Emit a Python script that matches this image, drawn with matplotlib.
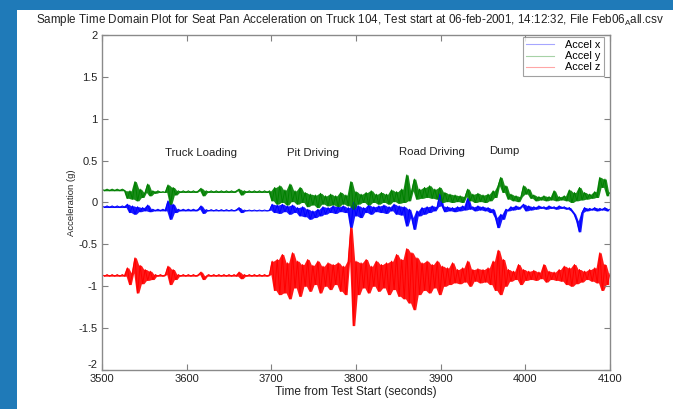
import numpy as np
import matplotlib
matplotlib.use("Agg")
import matplotlib.pyplot as plt
from matplotlib.patches import Rectangle

plt.rcParams['font.family'] = ['Liberation Sans', 'DejaVu Sans']
plt.rcParams['mathtext.fontset'] = 'custom'
plt.rcParams['mathtext.rm'] = 'Liberation Sans'

# ---------------- data ----------------
t_start, t_step = 3500, 3
accel_x = [
    -0.04, -0.06, -0.04, -0.06, -0.04, -0.06, -0.04, -0.06, -0.04, -0.06,
    -0.02, -0.12, -0.04, -0.14, -0.05, -0.11, -0.06, -0.10, -0.03, -0.11,
    -0.08, -0.10, -0.08, -0.10, -0.08, -0.10, 0.02, -0.20, -0.02, -0.12,
    -0.08, -0.10, -0.08, -0.10, -0.08, -0.10, -0.08, -0.10, -0.08, -0.04,
    -0.13, -0.085, -0.10, -0.085, -0.10, -0.085, -0.10, -0.085, -0.10, -0.085,
    -0.10, -0.085, -0.10, -0.085, -0.06, -0.12, -0.09, -0.10, -0.09, -0.10,
    -0.09, -0.10, -0.09, -0.10, -0.09, -0.10, -0.09, -0.02, -0.12, -0.03,
    -0.13, -0.02, -0.11, -0.04, -0.14, -0.03, -0.12, -0.06, -0.16, -0.05,
    -0.17, -0.08, -0.20, -0.10, -0.18, -0.08, -0.16, -0.05, -0.14, -0.06,
    -0.12, -0.04, -0.13, -0.05, -0.11, -0.04, -0.12, -0.06, -0.30, 0.00,
    -0.16, -0.04, -0.18, -0.06, -0.12, -0.03, -0.14, -0.05, -0.11, -0.04,
    -0.12, -0.03, -0.13, -0.05, -0.10, -0.02, -0.14, -0.04, -0.15, -0.05,
    -0.28, -0.08, -0.18, -0.32, -0.10, -0.16, -0.06, -0.14, -0.05, -0.12,
    -0.04, -0.10, -0.05, 0.10, -0.04, -0.11, -0.05, -0.10, -0.06, -0.11,
    -0.05, -0.10, -0.04, -0.09, 0.05, -0.08, -0.05, -0.10, -0.04, -0.09,
    -0.05, -0.10, -0.06, -0.12, -0.08, -0.18, -0.30, -0.14, -0.20, -0.08,
    -0.10, -0.05, -0.09, -0.04, -0.08, -0.05, -0.02, -0.10, -0.04, -0.09,
    -0.05, -0.08, -0.04, -0.07, -0.05, -0.08, -0.04, -0.07, -0.05, -0.08,
    -0.04, -0.07, -0.05, -0.08, -0.06, -0.10, -0.14, -0.22, -0.35, -0.12,
    -0.06, -0.10, -0.07, -0.09, -0.06, -0.10, -0.07, -0.09, -0.06, -0.10,
    -0.08,
]
accel_y = [
    0.16, 0.14, 0.16, 0.14, 0.16, 0.14, 0.16, 0.14, 0.16, 0.14,
    0.05, 0.14, 0.04, 0.25, 0.02, 0.16, 0.06, 0.12, 0.22, 0.08,
    0.14, 0.11, 0.14, 0.12, 0.13, 0.12, 0.21, -0.02, 0.18, 0.09,
    0.14, 0.12, 0.14, 0.12, 0.14, 0.12, 0.14, 0.12, 0.14, 0.17,
    0.08, 0.14, 0.12, 0.14, 0.12, 0.14, 0.12, 0.14, 0.12, 0.14,
    0.12, 0.14, 0.12, 0.14, 0.16, 0.09, 0.14, 0.12, 0.14, 0.12,
    0.14, 0.12, 0.14, 0.12, 0.14, 0.12, 0.14, 0.02, 0.18, -0.02,
    0.20, 0.00, 0.15, -0.03, 0.22, 0.01, 0.14, -0.02, 0.18, 0.00,
    0.12, -0.05, 0.10, -0.03, 0.09, -0.06, 0.11, -0.02, 0.08, -0.04,
    0.10, -0.03, 0.08, -0.05, 0.12, -0.02, 0.09, -0.04, 0.25, -0.08,
    0.13, -0.02, 0.10, 0.00, 0.12, -0.03, 0.14, 0.00, 0.10, -0.02,
    0.12, 0.00, 0.10, -0.02, 0.15, 0.01, 0.13, -0.01, 0.16, 0.00,
    0.33, 0.02, 0.14, 0.28, 0.04, 0.16, 0.05, 0.18, 0.06, 0.20,
    0.05, 0.16, 0.04, 0.18, 0.00, 0.12, 0.01, 0.10, 0.00, 0.09,
    0.01, 0.08, 0.00, 0.07, 0.16, 0.02, 0.10, 0.00, 0.11, 0.01,
    0.09, 0.00, 0.10, 0.02, 0.14, 0.06, 0.20, 0.30, 0.12, 0.20,
    0.04, 0.10, 0.02, 0.08, 0.01, 0.07, 0.20, 0.10, 0.16, 0.05,
    0.09, 0.02, 0.07, 0.03, 0.08, 0.02, 0.07, 0.03, 0.14, 0.02,
    0.07, 0.03, 0.08, 0.02, 0.15, 0.00, 0.12, 0.02, 0.18, 0.03,
    0.12, 0.04, 0.10, 0.05, 0.13, 0.06, 0.30, 0.18, 0.28, 0.08,
    0.12,
]
accel_z = [
    -0.86, -0.88, -0.86, -0.88, -0.86, -0.88, -0.86, -0.88, -0.86, -0.88,
    -0.78, -0.98, -0.84, -0.66, -1.08, -0.75, -0.97, -0.80, -0.93, -0.82,
    -0.92, -0.86, -0.88, -0.86, -0.88, -0.86, -0.76, -0.98, -0.80, -0.92,
    -0.86, -0.88, -0.86, -0.88, -0.86, -0.88, -0.86, -0.88, -0.86, -0.83,
    -0.92, -0.88, -0.86, -0.88, -0.86, -0.88, -0.86, -0.88, -0.86, -0.88,
    -0.86, -0.88, -0.86, -0.88, -0.83, -0.91, -0.86, -0.88, -0.86, -0.88,
    -0.86, -0.88, -0.86, -0.88, -0.86, -0.88, -0.86, -0.70, -1.05, -0.68,
    -1.10, -0.62, -1.08, -0.72, -1.15, -0.60, -1.02, -0.70, -1.12, -0.74,
    -1.00, -0.68, -1.06, -0.75, -0.98, -0.70, -1.08, -0.76, -1.00, -0.72,
    -1.04, -0.74, -0.98, -0.72, -1.06, -0.76, -1.10, -0.70, -0.30, -1.47,
    -0.70, -1.10, -0.72, -1.02, -0.68, -1.08, -0.76, -1.00, -0.70, -1.06,
    -0.74, -1.02, -0.72, -1.10, -0.70, -1.04, -0.62, -1.12, -0.68, -1.15,
    -0.55, -1.20, -0.60, -1.28, -0.66, -1.10, -0.72, -1.05, -0.70, -1.08,
    -0.74, -1.02, -0.70, -1.10, -0.76, -1.00, -0.78, -0.98, -0.72, -0.96,
    -0.80, -0.97, -0.78, -0.95, -0.70, -1.00, -0.80, -0.94, -0.79, -0.96,
    -0.80, -0.95, -0.78, -0.98, -0.70, -1.05, -0.57, -1.10, -0.68, -1.00,
    -0.80, -0.94, -0.82, -0.92, -0.74, -0.98, -0.80, -0.93, -0.82, -0.92,
    -0.81, -0.93, -0.83, -0.91, -0.74, -0.95, -0.82, -0.92, -0.83, -0.93,
    -0.80, -0.94, -0.76, -0.98, -0.78, -1.00, -0.74, -0.97, -0.80, -0.95,
    -0.82, -0.92, -0.80, -0.94, -0.78, -0.96, -0.60, -1.05, -0.74, -0.98,
    -0.85,
]
series_labels = ['Accel x', 'Accel y', 'Accel z']
phase_labels = ['Truck Loading', 'Pit Driving', 'Road Driving', 'Dump']
phase_x = [3574, 3718, 3851, 3957]
phase_y = [0.587, 0.595, 0.60, 0.615]
x_ticks = [3500, 3600, 3700, 3800, 3900, 4000, 4100]
y_ticks = [-2, -1.5, -1, -0.5, 0, 0.5, 1, 1.5, 2]
y_tick_labels = ['-2', '-1.5', '-1', '-0.5', '0', '0.5', '1', '1.5', '2']

time = t_start + t_step * np.arange(len(accel_x))

# ---------------- figure ----------------
fig = plt.figure(figsize=(6.73, 4.09), dpi=100)
fig.patch.set_facecolor('white')
edge_blue = '#1f7ab8'
fig.add_artist(Rectangle((0, 0), 17 / 673, 1, transform=fig.transFigure,
                         facecolor=edge_blue, edgecolor='none', zorder=0))
fig.add_artist(Rectangle((0, 1 - 10 / 409), 1, 10 / 409, transform=fig.transFigure,
                         facecolor=edge_blue, edgecolor='none', zorder=0))

ax = fig.add_axes([102 / 673, 39 / 409, 508 / 673, 335 / 409])
colors = ['#0000ff', '#008000', '#ff0000']
for vals, c, lab in zip([accel_x, accel_y, accel_z], colors, series_labels):
    v = np.asarray(vals)
    lo = np.minimum(v[:-1], v[1:])
    hi = np.maximum(v[:-1], v[1:])
    tm = (time[:-1] + time[1:]) / 2
    ax.fill_between(tm, lo, hi, color=c, alpha=0.9, linewidth=0)
    ax.plot(time, v, color=c, lw=0.7, label=lab)

ax.set_xlim(3500, 4100)
ax.set_ylim(-2, 2)
ax.set_xticks(x_ticks)
ax.set_yticks(y_ticks)
ax.set_yticklabels(y_tick_labels)
ax.tick_params(direction='in', length=4, width=0.8, color='#808080',
               top=True, right=True, labelsize=8, labelcolor='#222222', pad=3)
ax.get_yticklabels()[0].set_va('bottom')
for s in ax.spines.values():
    s.set_color('#8a8a8a')
    s.set_linewidth(1.0)

for lab, x, y in zip(phase_labels, phase_x, phase_y):
    ax.text(x, y, lab, fontsize=8.2, color='#222222', ha='left', va='center')

ax.set_xlabel('Time from Test Start (seconds)', fontsize=8.6, color='#222222', labelpad=1.5)
ax.set_ylabel('Acceleration (g)', fontsize=6.8, color='#222222')
ax.yaxis.set_label_coords(-0.051, 0.5)

fig.text(350 / 673, 1 - 20 / 409,
         r'Sample Time Domain Plot for Seat Pan Acceleration on Truck 104, Test start at 06-feb-2001, 14:12:32, File Feb06$_{\mathrm{A}}$all.csv',
         fontsize=8.35, color='#222222', ha='center', va='center')

leg_handles = [plt.Line2D([], [], color=c, lw=0.8, alpha=0.35) for c in colors]
leg = ax.legend(leg_handles, series_labels, loc='upper right',
                bbox_to_anchor=(0.988, 0.994), borderaxespad=0, fontsize=7.8,
                frameon=True, fancybox=False, handlelength=2.6, handletextpad=1.0,
                labelspacing=0.1, borderpad=0.3)
leg.get_frame().set_edgecolor('#8a8a8a')
leg.get_frame().set_linewidth(0.8)

fig.savefig('out.png', dpi=100, facecolor='white')
